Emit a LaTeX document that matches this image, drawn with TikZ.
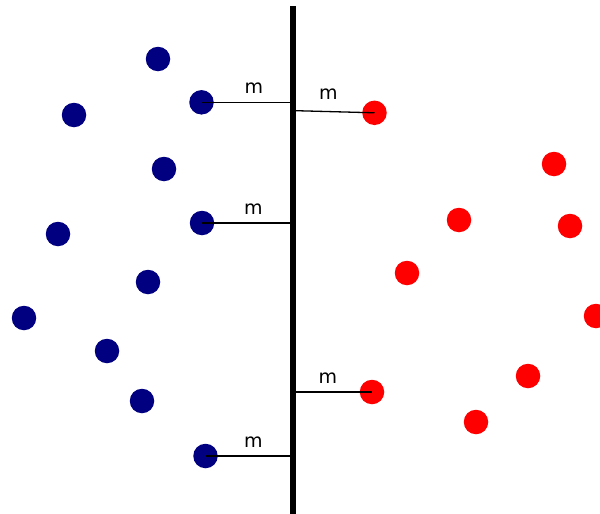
\documentclass[tikz,border=0pt]{standalone}
\usepackage{fontspec}
\setmainfont{DejaVu Sans}
\definecolor{dotblue}{RGB}{0,0,128}
\definecolor{dotred}{RGB}{255,0,0}
\begin{document}
\begin{tikzpicture}[x=1pt,y=-1pt,
  bdot/.style={circle,fill=dotblue,inner sep=0pt,minimum size=24.5pt},
  rdot/.style={circle,fill=dotred,inner sep=0pt,minimum size=24.5pt},
  link/.style={line width=1.3pt,black},
  lab/.style={font=\fontsize{19}{19}\selectfont,inner sep=0pt}]
\useasboundingbox (0,0) rectangle (600,514);
% wall
\coordinate (wt) at (293,6);
\coordinate (wb) at (293,514);
\draw[line width=6pt] (wt) -- (wb);
% blue dots
\node[bdot] (b1) at (158,59) {};
\node[bdot] (b2) at (74,115) {};
\node[bdot] (b3) at (201.5,102.3) {};
\node[bdot] (b4) at (164,169) {};
\node[bdot] (b5) at (58,234) {};
\node[bdot] (b6) at (202,223) {};
\node[bdot] (b7) at (148,282) {};
\node[bdot] (b8) at (24,318) {};
\node[bdot] (b9) at (107,351) {};
\node[bdot] (b10) at (142,401) {};
\node[bdot] (b11) at (205.5,456) {};
% red dots
\node[rdot] (r1) at (374.5,112.8) {};
\node[rdot] (r2) at (554,164) {};
\node[rdot] (r3) at (459,220) {};
\node[rdot] (r4) at (570,226) {};
\node[rdot] (r5) at (407,273) {};
\node[rdot] (r6) at (596,316) {};
\node[rdot] (r7) at (528,376) {};
\node[rdot] (r8) at (372,392) {};
\node[rdot] (r9) at (476,422) {};
% wall points
\coordinate (w1) at (290,102.3);
\coordinate (w2) at (296,110.7);
\coordinate (w3) at (290,223);
\coordinate (w4) at (296,392);
\coordinate (w5) at (290,456);
% connectors
\draw[link] (b3.center) -- (w1);
\draw[link] (w2) -- (r1.center);
\draw[link] (b6.center) -- (w3);
\draw[link] (w4) -- (r8.center);
\draw[link] (b11.center) -- (w5);
% labels
\node[lab] (m1) at (253.8,88.3) {m};
\node[lab] (m2) at (328.5,94) {m};
\node[lab] (m3) at (253.5,209) {m};
\node[lab] (m4) at (328,378) {m};
\node[lab] (m5) at (253.5,442) {m};
\end{tikzpicture}
\end{document}
